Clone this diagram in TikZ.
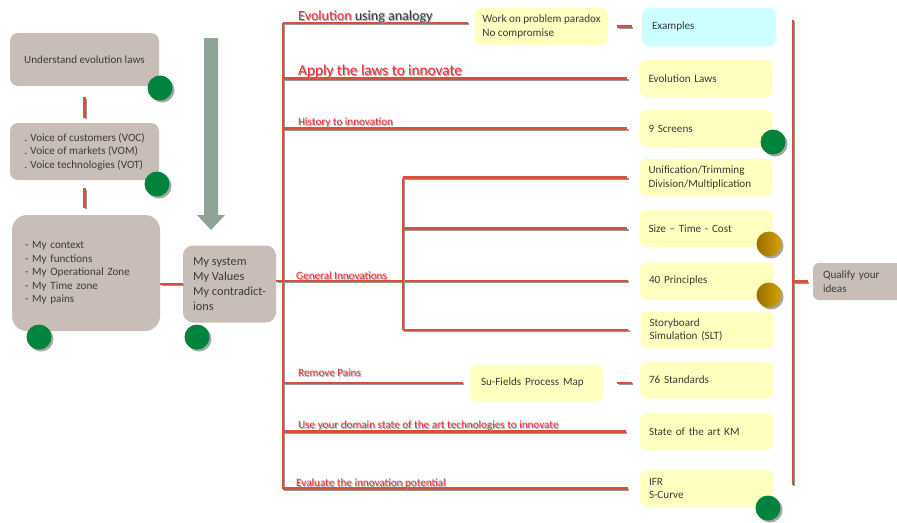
\documentclass[tikz,border=0pt]{standalone}
\usepackage{fontspec}
\setmainfont{Carlito}
\usetikzlibrary{shadows}
\newdimen\pxu \pxu=0.03cm
\definecolor{taupe}{HTML}{C9BEB7}
\definecolor{yel}{HTML}{FFFFC0}
\definecolor{cyanbox}{HTML}{CCFFFF}
\definecolor{lred}{HTML}{D8503C}
\definecolor{tred}{HTML}{F02A32}
\definecolor{txt}{HTML}{3A3A3A}
\definecolor{shd}{HTML}{A8A8A8}
\definecolor{garrow}{HTML}{8FA396}
\definecolor{gdotc}{HTML}{00833D}
\definecolor{golda}{HTML}{9A6E00}
\definecolor{goldb}{HTML}{D2A300}
\newcommand{\dk}[1]{\textcolor{txt}{#1}}
\newcommand{\shd}[1]{\makebox[0pt][l]{\hspace{0.9pt}\raisebox{-0.9pt}{\color{shd}\renewcommand{\dk}[1]{##1}#1}}#1}
\begin{document}
\begin{tikzpicture}[x=0.03cm,y=-0.03cm,
  every node/.append style={font=\fontsize{9.5}{11.6}\selectfont, text=txt},
  tbox/.style={fill=taupe, rounded corners=8\pxu, inner sep=2\pxu},
  ybox/.style={fill=yel, rounded corners=7\pxu, minimum height=37\pxu, inner xsep=9\pxu, inner ysep=2\pxu, text width=115\pxu, align=left},
  rl/.style={draw=lred, line width=2.6\pxu, preaction={draw=black!40, line width=2.2\pxu, transform canvas={xshift=1.3\pxu, yshift=-1.3\pxu}}},
  dotshadow/.style={drop shadow={shadow xshift=2\pxu, shadow yshift=-2\pxu, fill=black, opacity=0.35}},
  gdot/.style={circle, minimum size=25\pxu, inner sep=0, fill=gdotc, dotshadow},
  odot/.style={circle, minimum size=25\pxu, inner sep=0, left color=golda, right color=goldb, dotshadow},
  lbl/.style={anchor=base west, inner sep=0, text=tred}
]
\useasboundingbox (0,0) rectangle (897,522);
\fill[white] (0,0) rectangle (897,522);

% left column
\node[tbox, minimum width=149\pxu, minimum height=53\pxu] (b1) at (84.5,59.5) {Understand evolution laws};
\node[tbox, minimum width=149\pxu, minimum height=57\pxu, align=left] (b2) at (84.5,151.5) {. Voice of customers (VOC)\\. Voice of markets (VOM)\\. Voice technologies (VOT)};
\node[tbox, rounded corners=15\pxu, minimum height=116\pxu, inner xsep=13\pxu, text width=122\pxu, align=left] (b3) at (86,273) {- My context\\- My functions\\- My Operational Zone\\- My Time zone\\- My pains};
\node[tbox, rounded corners=10\pxu, minimum width=93\pxu, minimum height=77\pxu, align=left, font=\fontsize{10.5}{12.8}\selectfont] (b4) at (229.5,284) {My system\\My Values\\My contradict-\\ions};

% gray arrow
\fill[garrow] (204,38) -- (218,38) -- (218,215) -- (225,215) -- (211,230) -- (197,215) -- (204,215) -- cycle;

% right boxes
\node[ybox, text width=, minimum width=133\pxu, inner xsep=4\pxu] (wp) at (541.5,26.5) {Work on problem paradox\\No compromise};
\node[ybox, fill=cyanbox, minimum height=38\pxu, inner xsep=10\pxu, text width=114\pxu] (ex) at (709,27) {Examples};
\node[ybox] (el) at (706,78.5) {Evolution Laws};
\node[ybox] (ns) at (706,128.5) {9 Screens};
\node[ybox] (un) at (706,177.5) {Unification/Trimming\\Division/Multiplication};
\node[ybox] (stc) at (706,228.5) {Size – Time - Cost};
\node[ybox] (fp) at (706.5,281) {40 Principles};
\node[ybox] (sb) at (707,330) {Storyboard\\Simulation (SLT)};
\node[ybox, inner xsep=11\pxu, text width=111\pxu] (sf) at (536.5,383) {Su-Fields Process Map};
\node[ybox] (std) at (706.5,380) {76 Standards};
\node[ybox] (km) at (706.5,431.5) {State of the art KM};
\node[ybox] (ifr) at (706.5,488.5) {IFR\\S-Curve};
\node[tbox, rounded corners=6\pxu, minimum height=37\pxu, inner xsep=10\pxu, text width=72\pxu, align=left] (q) at (859,281.5) {Qualify your\\ideas};

% connectors
\coordinate (mt) at (283,23);
\coordinate (mb) at (283,488.5);
\coordinate (e1) at (468,23);
\coordinate (gx) at (403,0);
\coordinate (rt) at (793,20);
\coordinate (rb) at (793,485);
\draw[rl] (mt) -- (mb);
\draw[rl] (mt) -- (e1);
\draw[rl] (mt |- el.west) -- ([xshift=-12\pxu]el.west);
\draw[rl] (mt |- ns.west) -- ([xshift=-12\pxu]ns.west);
\draw[rl] (b4.east |- fp.west) -- ([xshift=-12\pxu]fp.west);
\draw[rl] (gx |- un.west) -- (gx |- sb.west);
\draw[rl] (gx |- un.west) -- ([xshift=-12\pxu]un.west);
\draw[rl] (gx |- stc.west) -- ([xshift=-12\pxu]stc.west);
\draw[rl] (gx |- sb.west) -- ([xshift=-12\pxu]sb.west);
\draw[rl] (mt |- sf.west) -- ([xshift=-7\pxu]sf.west);
\draw[rl] (mt |- km.west) -- ([xshift=-14\pxu]km.west);
\draw[rl] (mb) -- ([xshift=-12\pxu]ifr.west);
\draw[rl] ([xshift=9\pxu]wp.east) -- ([xshift=-10\pxu]ex.west |- wp.east);
\draw[rl] ([xshift=14\pxu]sf.east) -- ([xshift=-8\pxu]std.west |- sf.east);
\draw[rl] ([yshift=-11\pxu]b1.south) -- ([yshift=5\pxu]b2.north);
\draw[rl] ([yshift=-8\pxu]b2.south) -- ([yshift=7\pxu]b3.north -| b2.south);
\draw[rl] (b3.east |- b4.west) -- (b4.west);
\draw[rl] (rt) -- (rb);
\draw[rl] (rt |- q.west) -- ([xshift=-5\pxu]q.west);

% labels
\node[lbl, font=\fontsize{12}{14}\selectfont] (l1) at (298,20) {\shd{Evolution \dk{using analogy}}};
\node[lbl, font=\fontsize{13}{15}\selectfont] (l2) at (298,75) {\shd{Apply the laws to innovate}};
\node[lbl] (l3) at (298,125) {\shd{History to innovation}};
\node[lbl] (l4) at (296,279) {\shd{General Innovations}};
\node[lbl] (l5) at (298,376) {\shd{Remove Pains}};
\node[lbl] (l6) at (298,428) {\shd{Use your domain state of the art technologies to innovate}};
\node[lbl] (l7) at (296,486) {\shd{Evaluate the innovation potential}};

% dots
\node[gdot] (d1) at (160,88) {};
\node[gdot] (d2) at (157,184) {};
\node[gdot] (d3) at (39,337) {};
\node[gdot] (d4) at (197,337) {};
\node[gdot] (d5) at (773,142) {};
\node[odot] (d6) at (769,244) {};
\node[odot] (d7) at (769,295) {};
\node[gdot] (d8) at (768,508) {};
\end{tikzpicture}
\end{document}
